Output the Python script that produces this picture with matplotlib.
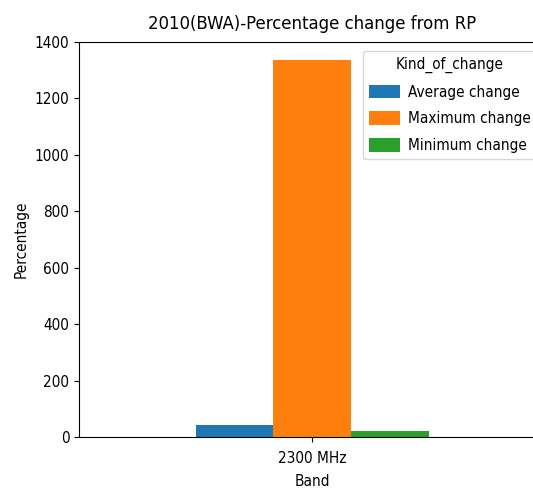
import matplotlib
matplotlib.use("Agg")
import matplotlib.pyplot as plt
import numpy as np

plt.rcParams["font.family"] = ["DejaVu Sans"]
plt.rcParams["font.stretch"] = "condensed"
plt.rcParams["font.size"] = 11

bands = ["2300 MHz"]
series_names = ["Average change", "Maximum change", "Minimum change"]
average_change = [42]
maximum_change = [1336]
minimum_change = [20]
colors = ["#1f77b4", "#ff7f0e", "#2ca02c"]

W, H = 533, 491
fig = plt.figure(figsize=(W / 100, H / 100), dpi=100)
ax = fig.add_axes([79 / W, 1 - 437 / H, (545 - 79) / W, (437 - 42) / H])

x = np.arange(len(bands))
bw = 0.5 / 3
for i, (name, vals) in enumerate(zip(series_names, [average_change, maximum_change, minimum_change])):
    ax.bar(x + (i - 1) * bw, vals, width=bw, color=colors[i], label=name)

ax.set_xlim(-0.5, 0.5)
ax.set_ylim(0, 1400)
ax.set_xticks(x)
ax.set_xticklabels(bands)
ax.tick_params(axis="x", pad=6.5)
ax.set_xlabel("Band", labelpad=6)
ax.set_ylabel("Percentage")
ax.set_title("2010(BWA)-Percentage change from RP", pad=9.5)
ax.spines["right"].set_visible(False)
ax.legend(title="Kind_of_change", loc="upper left",
          bbox_to_anchor=(363 / W, 1 - 51 / H), bbox_transform=fig.transFigure,
          borderaxespad=0, handleheight=1.0, labelspacing=0.75, borderpad=0.4,
          handletextpad=0.55)

fig.savefig("out.png", dpi=100)
